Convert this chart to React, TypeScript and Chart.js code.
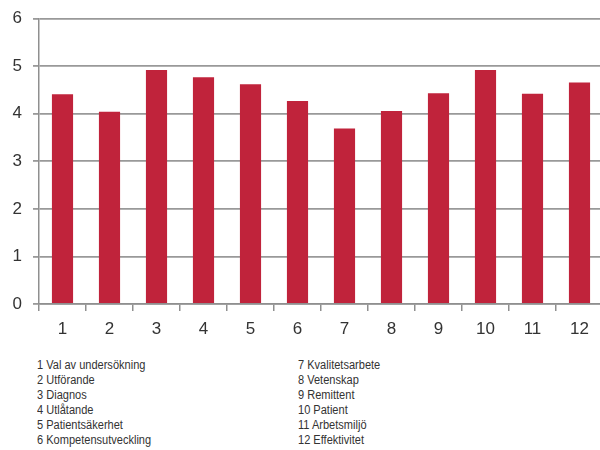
import React, { useEffect, useRef } from "react";
import { Chart, registerables } from "chart.js";

Chart.register(...registerables);

const categories = ["1", "2", "3", "4", "5", "6", "7", "8", "9", "10", "11", "12"];
const values = [4.41, 4.04, 4.92, 4.77, 4.62, 4.27, 3.69, 4.06, 4.43, 4.92, 4.42, 4.66];
const yTicks = [0, 1, 2, 3, 4, 5, 6];
const legendLeft = [
  "1 Val av undersökning",
  "2 Utförande",
  "3 Diagnos",
  "4 Utlåtande",
  "5 Patientsäkerhet",
  "6 Kompetensutveckling",
];
const legendRight = [
  "7 Kvalitetsarbete",
  "8 Vetenskap",
  "9 Remittent",
  "10 Patient",
  "11 Arbetsmiljö",
  "12 Effektivitet",
];

const FONT = "'Liberation Sans', Arial, sans-serif";

export default function App() {
  const ref = useRef<HTMLCanvasElement | null>(null);

  useEffect(() => {
    if (!ref.current) return;
    const chart = new Chart(ref.current, {
      type: "bar",
      data: {
        labels: categories,
        datasets: [
          {
            data: values,
            backgroundColor: "#c0233b",
            borderWidth: 0,
            barPercentage: 0.45,
            categoryPercentage: 1,
          },
        ],
      },
      options: {
        responsive: false,
        animation: false,
        layout: { padding: { top: 17, left: 0, right: 0, bottom: 0 } },
        plugins: { legend: { display: false }, tooltip: { enabled: false } },
        scales: {
          x: {
            grid: {
              display: true,
              drawOnChartArea: false,
              drawTicks: true,
              tickLength: 7,
              color: "#8f8f8f",
              lineWidth: 1.5,
              offset: true,
            },
            border: { display: true, color: "#8f8f8f", width: 1.5 },
            ticks: {
              color: "#333333",
              font: { family: FONT, size: 17 },
              padding: 8,
            },
            afterFit: (s: any) => {
              s.height = 41;
            },
          },
          y: {
            min: 0,
            max: 6,
            afterBuildTicks: (s: any) => {
              s.ticks = yTicks.map((v) => ({ value: v }));
            },
            grid: {
              color: "#999999",
              lineWidth: 1.8,
              tickLength: 6,
            },
            border: { display: true, color: "#8f8f8f", width: 1.5 },
            ticks: {
              color: "#333333",
              font: { family: FONT, size: 17, lineHeight: 0.9 },
              padding: 11,
            },
            afterFit: (s: any) => {
              s.width = 39;
            },
          },
        },
      },
    });
    return () => chart.destroy();
  }, []);

  const textStyle: React.CSSProperties = {
    fontFamily: FONT,
    fontSize: 12,
    lineHeight: "15px",
    color: "#333333",
    whiteSpace: "nowrap",
    transform: "scaleX(0.92)",
    transformOrigin: "0 0",
  };

  return (
    <div
      style={{
        position: "fixed",
        left: 0,
        top: 0,
        width: 600,
        height: 450,
        overflow: "hidden",
        background: "#ffffff",
      }}
    >
      <canvas ref={ref} width={603} height={345} style={{ display: "block" }} />
      <div style={{ position: "absolute", left: 37, top: 358, ...textStyle }}>
        {legendLeft.map((t) => (
          <div key={t}>{t}</div>
        ))}
      </div>
      <div style={{ position: "absolute", left: 298, top: 358, ...textStyle }}>
        {legendRight.map((t) => (
          <div key={t}>{t}</div>
        ))}
      </div>
    </div>
  );
}
